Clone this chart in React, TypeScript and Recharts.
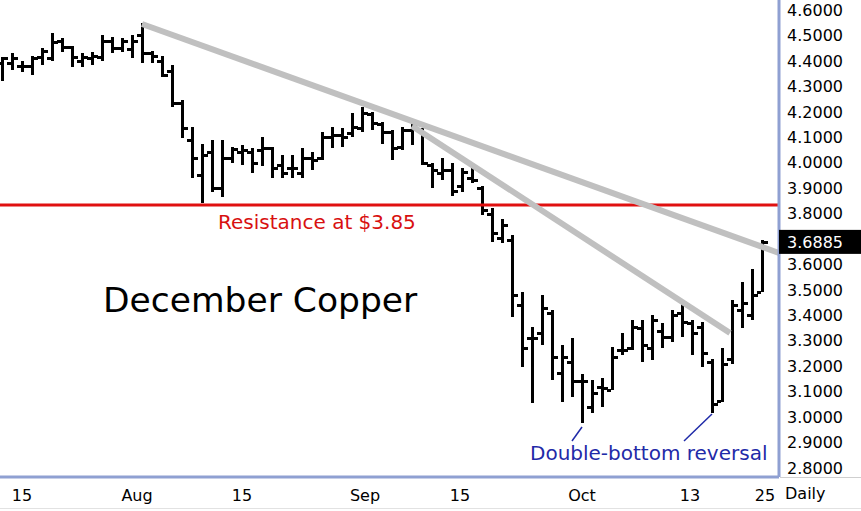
import React from 'react';
import { ComposedChart, Bar, XAxis, YAxis, ReferenceLine } from 'recharts';

// daily OHLC bars, December copper
const opens = [
  4.39, 4.39, 4.38, 4.38, 4.415, 4.41, 4.48, 4.455, 4.40, 4.41,
  4.415, 4.48, 4.45, 4.445, 4.50, 4.43, 4.40, 4.36, 4.235, 4.09,
  3.95, 4.04, 3.90, 4.02, 4.04, 4.04, 4.05, 4.057, 3.99, 3.98,
  3.96, 4.02, 4.02, 4.10, 4.11, 4.115, 4.135, 4.19, 4.15, 4.12,
  4.06, 4.13, 4.13, 3.99, 3.96, 3.97, 3.91, 3.94, 3.90, 3.80,
  3.705, 3.695, 3.44, 3.31, 3.33, 3.41, 3.175, 3.215, 3.14, 3.04,
  3.12, 3.105, 3.265, 3.27, 3.35, 3.27, 3.34, 3.315, 3.41, 3.37,
  3.355, 3.215, 3.065, 3.23, 3.42, 3.40, 3.49,
];
const highs = [
  4.415, 4.43, 4.40, 4.42, 4.45, 4.51, 4.49, 4.46, 4.43, 4.435,
  4.50, 4.495, 4.49, 4.50, 4.55, 4.44, 4.42, 4.385, 4.245, 4.14,
  4.075, 4.09, 4.09, 4.06, 4.07, 4.057, 4.10, 4.06, 4.03, 4.03,
  4.057, 4.04, 4.12, 4.14, 4.135, 4.195, 4.22, 4.20, 4.16, 4.13,
  4.14, 4.155, 4.135, 4.0, 4.02, 4.0, 3.98, 3.995, 3.91, 3.82,
  3.78, 3.715, 3.49, 3.355, 3.48, 3.42, 3.285, 3.31, 3.17, 3.145,
  3.155, 3.275, 3.33, 3.38, 3.38, 3.40, 3.37, 3.42, 3.46, 3.38,
  3.375, 3.23, 3.27, 3.46, 3.53, 3.58, 3.695,
];
const lows = [
  4.32, 4.365, 4.355, 4.345, 4.385, 4.40, 4.435, 4.375, 4.375, 4.385,
  4.40, 4.43, 4.435, 4.41, 4.39, 4.39, 4.335, 4.22, 4.095, 3.94,
  3.84, 3.885, 3.865, 4.0, 3.99, 3.96, 3.985, 3.94, 3.94, 3.94,
  3.94, 3.97, 4.01, 4.057, 4.06, 4.10, 4.12, 4.13, 4.075, 4.01,
  4.05, 4.07, 3.99, 3.90, 3.93, 3.87, 3.885, 3.92, 3.795, 3.69,
  3.685, 3.395, 3.195, 3.055, 3.285, 3.145, 3.06, 3.08, 2.975, 3.015,
  3.04, 3.105, 3.245, 3.265, 3.215, 3.225, 3.27, 3.295, 3.315, 3.245,
  3.195, 3.015, 3.06, 3.21, 3.35, 3.38, 3.49,
];
const closes = [
  4.41, 4.41, 4.38, 4.41, 4.44, 4.475, 4.455, 4.415, 4.415, 4.42,
  4.48, 4.45, 4.48, 4.48, 4.43, 4.42, 4.345, 4.235, 4.135, 4.02,
  4.03, 3.90, 4.02, 4.055, 4.05, 4.0, 4.057, 3.98, 3.96, 3.98,
  4.02, 4.01, 4.10, 4.11, 4.10, 4.14, 4.195, 4.155, 4.12, 4.057,
  4.13, 4.15, 4.0, 3.97, 3.97, 3.89, 3.965, 3.93, 3.815, 3.725,
  3.755, 3.48, 3.27, 3.31, 3.43, 3.235, 3.235, 3.14, 3.14, 3.095,
  3.115, 3.235, 3.265, 3.355, 3.285, 3.38, 3.315, 3.40, 3.375, 3.33,
  3.25, 3.05, 3.21, 3.44, 3.45, 3.48, 3.6885,
];

const xTickPos = [2, 13.5, 24, 36.3, 45.8, 58, 68.8, 76.3];
const xTickLabels = ['15', 'Aug', '15', 'Sep', '15', 'Oct', '13', '25'];
// 3.7000 is hidden under the last-price box in the original
const priceTicks = [
  2.8, 2.9, 3.0, 3.1, 3.2, 3.3, 3.4, 3.5, 3.6, 3.8,
  3.9, 4.0, 4.1, 4.2, 4.3, 4.4, 4.5, 4.6,
];
const lastPrice = 3.6885;
const resistance = 3.833;
const trendUpper = [{ x: 14, y: 4.545 }, { x: 77.7, y: 3.645 }];
const trendLower = [{ x: 41, y: 4.144 }, { x: 72.8, y: 3.33 }];
const pointerFirst = [{ x: 58, y: 2.961 }, { x: 57, y: 2.906 }];
const pointerSecond = [{ x: 71, y: 3.012 }, { x: 68.2, y: 2.906 }];

const data = highs.map((h, i) => ({
  i,
  open: opens[i],
  high: h,
  low: lows[i],
  close: closes[i],
}));

const FONT = "Tahoma, 'DejaVu Sans', sans-serif";
const AXIS_BLUE = '#8fa0d2';

const OhlcBar = (props: any) => {
  const { x, y, width, height, payload } = props;
  if (x == null || !payload) return null;
  const top = Math.min(y, y + height);
  const h = Math.abs(height);
  const cx = Math.round(x + width / 2);
  const span = payload.high - payload.low || 1;
  const yOf = (v: number) => Math.round(top + ((payload.high - v) / span) * h);
  return (
    <g shapeRendering="crispEdges">
      <rect x={cx - 1} y={top} width={3} height={Math.max(h, 1)} fill="#000" />
      <rect x={cx - 5} y={yOf(payload.open) - 1} width={4} height={3} fill="#000" />
      <rect x={cx + 2} y={yOf(payload.close) - 1} width={4} height={3} fill="#000" />
    </g>
  );
};

const PriceTick = (props: any) => {
  const { x, y, payload } = props;
  const v = payload.value as number;
  if (Math.abs(v - lastPrice) < 1e-6) {
    return (
      <g>
        <rect x={x - 8} y={y - 12} width={90} height={24} fill="#000" />
        <text x={x} y={y} dy="0.36em" fill="#fff" fontSize={16} fontFamily={FONT}>
          {v.toFixed(4)}
        </text>
      </g>
    );
  }
  return (
    <text x={x} y={y} dy="0.36em" fill="#000" fontSize={16} fontFamily={FONT}>
      {v.toFixed(4)}
    </text>
  );
};

const DateTick = (props: any) => {
  const { x, y, payload } = props;
  const label = xTickLabels[xTickPos.indexOf(payload.value)];
  return (
    <text x={x} y={y + 16} dy="0.36em" textAnchor="middle" fill="#000" fontSize={16} fontFamily={FONT}>
      {label}
    </text>
  );
};

export default function App() {
  return (
    <div style={{ position: 'relative', width: 861, height: 511, background: '#fff', fontFamily: FONT }}>
      <style>{'body{margin:0}'}</style>
      <ComposedChart
        width={861}
        height={511}
        data={data}
        margin={{ top: 0, right: 0, bottom: 0, left: 0 }}
      >
        <XAxis
          dataKey="i"
          type="number"
          domain={[-0.2, 77.7]}
          allowDataOverflow
          ticks={xTickPos}
          interval={0}
          height={34}
          tickLine={false}
          tickSize={0}
          axisLine={{ stroke: AXIS_BLUE, strokeWidth: 3 }}
          tick={<DateTick />}
        />
        <YAxis
          orientation="right"
          type="number"
          domain={[2.7643, 4.6393]}
          allowDataOverflow
          ticks={[...priceTicks, lastPrice]}
          interval={0}
          width={82}
          tickLine={false}
          tickSize={0}
          tickMargin={8}
          axisLine={{ stroke: AXIS_BLUE, strokeWidth: 3 }}
          tick={<PriceTick />}
        />
        <ReferenceLine y={resistance} stroke="#e01010" strokeWidth={3} />
        <ReferenceLine segment={trendUpper} stroke="#c0c0c0" strokeWidth={6} />
        <ReferenceLine segment={trendLower} stroke="#c0c0c0" strokeWidth={6} />
        <ReferenceLine segment={pointerFirst} stroke="#1f2aa8" strokeWidth={1.5} />
        <ReferenceLine segment={pointerSecond} stroke="#1f2aa8" strokeWidth={1.5} />
        <Bar
          dataKey={(d: any) => [d.low, d.high]}
          barSize={8}
          shape={<OhlcBar />}
          isAnimationActive={false}
        />
      </ComposedChart>

      <div style={{ position: 'absolute', left: 103, top: 280, fontSize: 34.5, lineHeight: 1.2, color: '#000', whiteSpace: 'nowrap' }}>
        December Copper
      </div>
      <div style={{ position: 'absolute', left: 218, top: 210, fontSize: 20, lineHeight: 1.2, color: '#d81010', whiteSpace: 'nowrap' }}>
        Resistance at $3.85
      </div>
      <div style={{ position: 'absolute', left: 530, top: 441, fontSize: 20, lineHeight: 1.2, color: '#1f2aa8', whiteSpace: 'nowrap' }}>
        Double-bottom reversal
      </div>
      <div style={{ position: 'absolute', left: 785, top: 484, fontSize: 16, lineHeight: 1.2, color: '#000' }}>
        Daily
      </div>
      <div style={{ position: 'absolute', left: 780, top: 477, width: 81, height: 1, background: '#cfcfcf' }} />
      <div style={{ position: 'absolute', left: 0, top: 508, width: 861, height: 1, background: '#e2e2e2' }} />
    </div>
  );
}
